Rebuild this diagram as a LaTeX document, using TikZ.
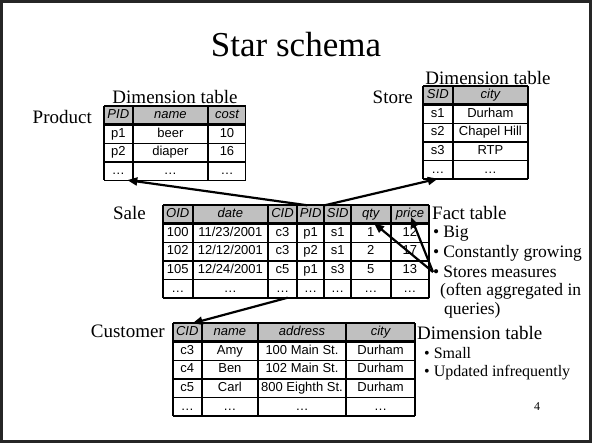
\documentclass[tikz,border=0pt]{standalone}
\usepackage{fontspec}
\setmainfont{Liberation Serif}
\newfontfamily\tabfont{Liberation Sans}
\usetikzlibrary{matrix, positioning, arrows.meta}

\definecolor{hdrgray}{HTML}{C0C0C0}
\definecolor{framegray}{HTML}{262626}

\tikzset{
  tbl/.style={matrix of nodes, inner sep=0pt, outer sep=0pt, anchor=north west,
    column sep=0pt, row sep=0pt,
    nodes={draw, line width=0.6pt, inner sep=0pt, outer sep=0pt, anchor=center,
      minimum height=18pt, text height=9.5pt, text depth=2.5pt,
      font=\tabfont\fontsize{13}{13}\selectfont},
    row 1/.style={nodes={fill=hdrgray, font=\tabfont\itshape\fontsize{13}{13}\selectfont}}},
  rule/.style={line width=1.6pt},
  lbl/.style={inner sep=0pt, font=\fontsize{19}{19}\selectfont},
  pt/.style={inner sep=0pt, anchor=west, font=\fontsize{17.5}{17.5}\selectfont},
  smallpt/.style={inner sep=0pt, anchor=west, font=\fontsize{16}{16}\selectfont},
  link/.style={line width=2.2pt, -{Triangle[length=10pt,width=8pt]}}
}

% thick outer and column rules of a table: name, columns, rows
\newcommand\tblrules[3]{%
  \draw[rule] (#1.north west) -- (#1.north east)
    (#1-1-1.south west) -- (#1-1-#2.south east)
    (#1.south west) -- (#1.south east)
    (#1.north west) -- (#1.south west);
  \foreach \j in {1,...,#2}
    \draw[rule] (#1-1-\j.north east) -- (#1-#3-\j.south east);
}

\begin{document}
\begin{tikzpicture}[x=1pt, y=-1pt]
  \useasboundingbox (0,0) rectangle (592,443);
  \draw[framegray, line width=2.5pt] (1.5,1.5) rectangle (590.5,441.5);

  % Title
  \node[inner sep=0pt, font=\fontsize{35}{35}\selectfont] (title) at (296,45) {Star schema};

  % Product dimension table
  \matrix (prod) [tbl, column 1/.style={nodes={minimum width=28pt}},
    column 2/.style={nodes={minimum width=75pt}},
    column 3/.style={nodes={minimum width=37pt}}] at (104,106) {
    PID & name & cost \\
    p1 & beer & 10 \\
    p2 & diaper & 16 \\
    … & … & … \\
  };
  \tblrules{prod}{3}{4}
  \node[lbl] (prodcap) at (175,97) {Dimension table};
  \node[lbl, anchor=east] (prodname) at (92,117) {Product};

  % Store dimension table
  \matrix (store) [tbl, column 1/.style={nodes={minimum width=29pt}},
    column 2/.style={nodes={minimum width=75pt}}] at (423,86) {
    SID & city \\
    s1 & Durham \\
    s2 & Chapel Hill \\
    s3 & RTP \\
    … & … \\
  };
  \tblrules{store}{2}{5}
  \node[lbl] (storecap) at (488,78) {Dimension table};
  \node[lbl, anchor=east] (storename) at (413,97) {Store};

  % Sale fact table
  \matrix (sale) [tbl, column 1/.style={nodes={minimum width=29pt}},
    column 2/.style={nodes={minimum width=75pt}},
    column 3/.style={nodes={minimum width=28pt}},
    column 4/.style={nodes={minimum width=27pt}},
    column 5/.style={nodes={minimum width=26pt}},
    column 6/.style={nodes={minimum width=39pt}},
    column 7/.style={nodes={minimum width=38pt}}] at (163,205) {
    OID & date & CID & PID & SID & qty & price \\
    100 & 11/23/2001 & c3 & p1 & s1 & 1 & 12 \\
    102 & 12/12/2001 & c3 & p2 & s1 & 2 & 17 \\
    105 & 12/24/2001 & c5 & p1 & s3 & 5 & 13 \\
    … & … & … & … & … & … & … \\
  };
  \tblrules{sale}{7}{5}
  \node[lbl, anchor=east] (salename) at (146,213) {Sale};
  \node[lbl, anchor=west] (factcap) at (432,213) {Fact table};
  \node[pt] (big) at (433,234) {\textbullet\hspace{4pt}Big};
  \node[pt] (grow) at (433,253) {\textbullet\hspace{4pt}Constantly growing};
  \node[pt] (stores) at (433,272) {\textbullet\hspace{4pt}Stores measures};
  \node[pt] (often) at (440,291) {(often aggregated in};
  \node[pt] (queries) at (444,310) {queries)};

  % Customer dimension table
  \matrix (cust) [tbl, column 1/.style={nodes={minimum width=28pt}},
    column 2/.style={nodes={minimum width=56pt}},
    column 3/.style={nodes={minimum width=87pt}},
    column 4/.style={nodes={minimum width=69pt}}] at (173,323) {
    CID & name & address & city \\
    c3 & Amy & 100 Main St. & Durham \\
    c4 & Ben & 102 Main St. & Durham \\
    c5 & Carl & 800 Eighth St. & Durham \\
    … & … & … & … \\
  };
  \tblrules{cust}{4}{5}
  \node[lbl, anchor=east] (custname) at (165,331) {Customer};
  \node[lbl, anchor=west] (custcap) at (417,333) {Dimension table};
  \node[smallpt] (small) at (424,353) {\textbullet\hspace{4pt}Small};
  \node[smallpt] (upd) at (424,373) {\textbullet\hspace{4pt}Updated infrequently};

  \node[inner sep=0pt, font=\fontsize{12}{12}\selectfont] (pgno) at (537,407) {4};

  % Connect the keys and the measures
  \draw[link] (sale-1-4.110) -- (prod-4-1.-45);
  \draw[link] (sale-1-5.north west) -- (store-5-1.south);
  \draw[link] (sale-5-3.-60) -- (cust-1-1.60);
  \draw[link] (stores.west) -- (sale-1-6.-70);
  \draw[link, shorten >=3pt] (stores.west) -- (sale-1-7.center);
\end{tikzpicture}
\end{document}
